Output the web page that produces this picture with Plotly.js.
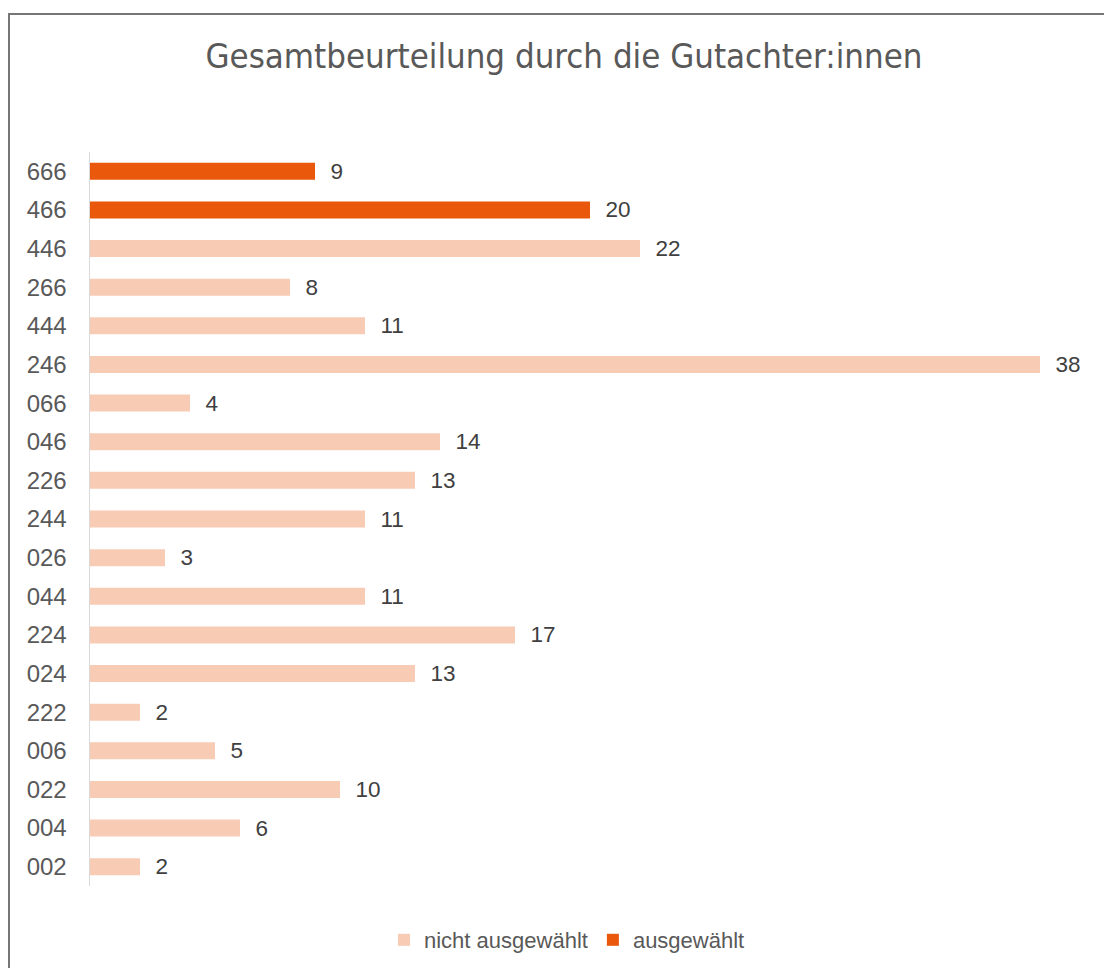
<!DOCTYPE html>
<html>
<head>
<meta charset="utf-8">
<script src="https://cdn.plot.ly/plotly-3.0.1.min.js"></script>
<style>
  html, body { margin: 0; padding: 0; background: #ffffff; overflow: hidden; }
  #wrap { position: relative; width: 1104px; height: 968px; }
  #chart { position: absolute; left: 0; top: 0; width: 1104px; height: 968px; }
  #frame { position: absolute; left: 8px; top: 13px; width: 1200px; height: 1100px;
           border: 2px solid #767676; box-sizing: border-box; pointer-events: none; }
</style>
</head>
<body>
<div id="wrap">
  <div id="chart"></div>
  <div id="frame"></div>
</div>
<script>
// Categories, bottom to top
const categories = ["002","004","022","006","222","024","224","044","026","244","226","046","066","246","444","266","446","466","666"];
// Counts per category
const counts =     [2, 6, 10, 5, 2, 13, 17, 11, 3, 11, 13, 14, 4, 38, 11, 8, 22, 20, 9];
// Which categories were selected ("ausgewählt")
const selected =   [false,false,false,false,false,false,false,false,false,false,false,false,false,false,false,false,false,true,true];

const seriesNames = ["nicht ausgewählt", "ausgewählt"];
const colors = ["#F8CBB4", "#E9580B"];

const notSelVals = counts.map((v, i) => selected[i] ? null : v);
const selVals = counts.map((v, i) => selected[i] ? v : null);

function mkTrace(vals, name, color) {
  return {
    type: "bar",
    orientation: "h",
    y: categories,
    x: vals,
    name: name,
    marker: { color: color, line: { width: 0 } },
    texttemplate: "\u00a0\u00a0%{x}",
    textposition: "outside",
    constraintext: "none",
    cliponaxis: false,
    textfont: { family: "Liberation Sans, Arial, sans-serif", size: 22.5, color: "#404040" },
    hoverinfo: "skip"
  };
}

const data = [
  mkTrace(notSelVals, seriesNames[0], colors[0]),
  mkTrace(selVals, seriesNames[1], colors[1])
];

const layout = {
  width: 1104,
  height: 968,
  margin: { l: 90, r: 14, t: 152, b: 82, pad: 0, autoexpand: false },
  paper_bgcolor: "rgba(0,0,0,0)",
  plot_bgcolor: "rgba(0,0,0,0)",
  barmode: "overlay",
  bargap: 0.56,
  showlegend: true,
  title: {
    text: "Gesamtbeurteilung durch die Gutachter:innen",
    font: { family: "Liberation Sans Narrow, DejaVu Sans Condensed, Arial Narrow, sans-serif", size: 34.5, color: "#595959" },
    x: 564 / 1104, xref: "container", xanchor: "center",
    y: 1 - 56 / 968, yref: "container", yanchor: "middle"
  },
  xaxis: {
    range: [0, 40],
    visible: false,
    showgrid: false,
    zeroline: false,
    fixedrange: true
  },
  yaxis: {
    type: "category",
    categoryorder: "array",
    categoryarray: categories,
    range: [-0.5, categories.length - 0.5],
    showline: true,
    linecolor: "#D9D9D9",
    linewidth: 1.5,
    showgrid: false,
    zeroline: false,
    ticks: "",
    ticklabelstandoff: 17,
    tickfont: { family: "Liberation Sans, Arial, sans-serif", size: 24, color: "#595959" },
    fixedrange: true
  },
  legend: {
    orientation: "h",
    x: 567 / 1104, xanchor: "center", xref: "container",
    y: 1 - 940 / 968, yanchor: "middle", yref: "container",
    font: { family: "Liberation Sans, Arial, sans-serif", size: 22, color: "#595959" },
    itemwidth: 30,
    traceorder: "normal"
  }
};

Plotly.newPlot("chart", data, layout, { displayModeBar: false, staticPlot: true });
</script>
</body>
</html>
